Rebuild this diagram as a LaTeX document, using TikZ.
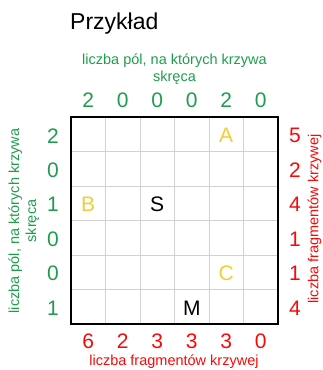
\documentclass[tikz,border=0pt]{standalone}
\usepackage{fontspec}
\setmainfont{Liberation Sans}
\definecolor{lblgreen}{RGB}{30,158,76}
\definecolor{lblred}{RGB}{245,10,10}
\definecolor{ptyellow}{RGB}{242,206,50}
\definecolor{gridgray}{RGB}{210,210,210}
\begin{document}
\begin{tikzpicture}[x=1pt,y=-1pt,
  digit/.style={inner sep=0pt,font=\fontsize{21}{24}\selectfont},
  gnum/.style={digit,text=lblgreen},
  rnum/.style={digit,text=lblred},
  label/.style={inner sep=0pt,font=\fontsize{14.5}{17}\selectfont,align=center},
  glabel/.style={label,text=lblgreen},
  rlabel/.style={label,text=lblred},
  pt/.style={inner sep=0pt,font=\fontsize{21}{24}\selectfont},
  ypt/.style={pt,text=ptyellow},
  kpt/.style={pt,text=black}]
\useasboundingbox (0,0) rectangle (322,370);
% title
\node[inner sep=0pt,anchor=base west,font=\fontsize{23}{27}\selectfont] (title) at (70,29.3) {Przykład};
% grid
\foreach \i in {1,...,5}{
  \draw[gridgray,line width=1pt] ({71+34.5*\i},117) -- ({71+34.5*\i},324);
  \draw[gridgray,line width=1pt] (71,{117+34.5*\i}) -- (278,{117+34.5*\i});
}
\draw[black,line width=2.3pt] (71,117) rectangle (278,324);
% labels
\node[glabel] (toplabel) at (174.5,69.3) {liczba pól, na których krzywa\\skręca};
\node[glabel,rotate=90] (leftlabel) at (23.8,221) {liczba pól, na których krzywa\\skręca};
\node[rlabel,anchor=base] (bottomlabel) at (174,365.5) {liczba fragmentów krzywej};
\node[rlabel,rotate=90,anchor=base] (rightlabel) at (318.3,219) {liczba fragmentów krzywej};
% column numbers
\foreach \v [count=\i] in {2,0,0,0,2,0}
  \node[gnum] (top\i) at ({71+34.5*(\i-0.5)},100.5) {\v};
\foreach \v [count=\i] in {6,2,3,3,3,0}
  \node[rnum] (bot\i) at ({71+34.5*(\i-0.5)},341.5) {\v};
% row numbers
\foreach \v [count=\i] in {2,0,1,0,0,1}
  \node[gnum] (left\i) at (53,{117+34.5*(\i-0.5)+1.5}) {\v};
\foreach \v [count=\i] in {5,2,4,1,1,4}
  \node[rnum] (right\i) at (295,{117+34.5*(\i-0.5)+1.5}) {\v};
% points
\node[ypt] (A) at ({71+34.5*4.5},{117+34.5*0.5+1.5}) {A};
\node[ypt] (B) at ({71+34.5*0.5},{117+34.5*2.5+1.5}) {B};
\node[kpt] (S) at ({71+34.5*2.5},{117+34.5*2.5+1.5}) {S};
\node[ypt] (C) at ({71+34.5*4.5},{117+34.5*4.5+1.5}) {C};
\node[kpt] (M) at ({71+34.5*3.5},{117+34.5*5.5+1.5}) {M};
\end{tikzpicture}
\end{document}
